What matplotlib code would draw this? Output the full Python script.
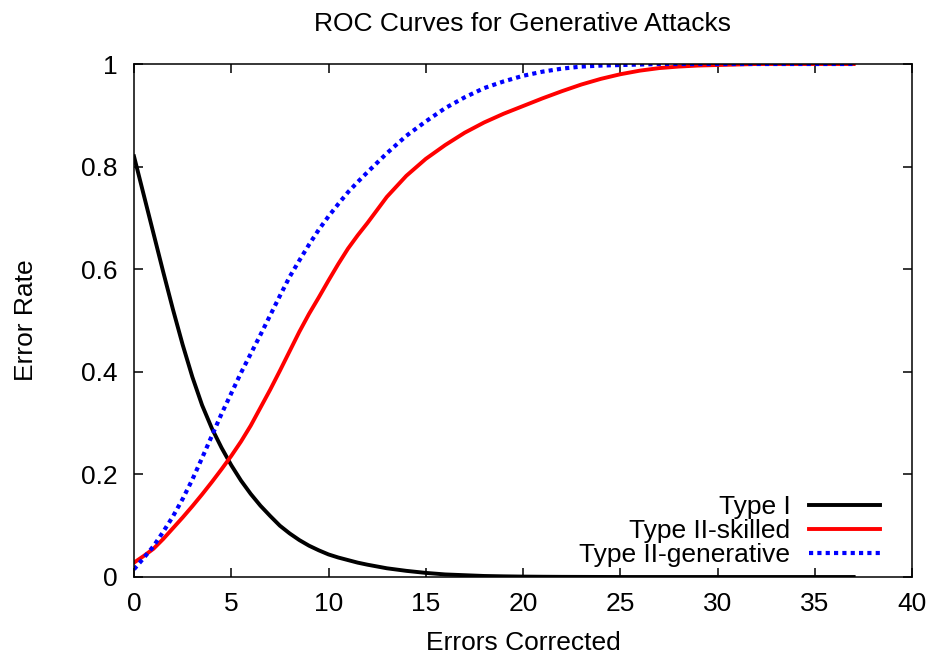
import numpy as np
import matplotlib
matplotlib.use("Agg")
import matplotlib.pyplot as plt

plt.rcParams["font.family"] = ["Liberation Sans", "DejaVu Sans"]

# errors corrected: half steps up to 12, then whole steps to 37
errors = [0, 0.5, 1, 1.5, 2, 2.5, 3, 3.5, 4, 4.5, 5, 5.5, 6, 6.5, 7, 7.5, 8,
          8.5, 9, 9.5, 10, 10.5, 11, 11.5, 12,
          13, 14, 15, 16, 17, 18, 19, 20, 21, 22, 23, 24, 25, 26, 27, 28, 29,
          30, 31, 32, 33, 34, 35, 36, 37]

type1 = [0.82, 0.745, 0.67, 0.595, 0.522, 0.453, 0.39, 0.335, 0.29, 0.252,
         0.218, 0.188, 0.162, 0.139, 0.119, 0.1, 0.085, 0.072, 0.061, 0.052,
         0.044, 0.038, 0.033, 0.028, 0.024,
         0.017, 0.012, 0.008, 0.005, 0.0035, 0.002, 0.0013, 0.0008, 0.0005,
         0.0003, 0.0002, 0.0001, 0.0, 0.0, 0.0, 0.0, 0.0, 0.0, 0.0, 0.0, 0.0,
         0.0, 0.0, 0.0, 0.0]

type2_skilled = [0.028, 0.041, 0.055, 0.074, 0.095, 0.116, 0.138, 0.161, 0.185,
                 0.21, 0.236, 0.264, 0.295, 0.33, 0.365, 0.402, 0.44, 0.478,
                 0.513, 0.545, 0.578, 0.61, 0.64, 0.666, 0.69,
                 0.741, 0.782, 0.815, 0.842, 0.866, 0.886, 0.903, 0.918, 0.933,
                 0.947, 0.96, 0.971, 0.98, 0.987, 0.992, 0.995, 0.997, 0.998,
                 0.999, 1.0, 1.0, 1.0, 1.0, 1.0, 1.0]

type2_generative = [0.015, 0.037, 0.06, 0.088, 0.118, 0.152, 0.19, 0.232, 0.275,
                    0.318, 0.358, 0.398, 0.435, 0.472, 0.51, 0.548, 0.585,
                    0.617, 0.648, 0.677, 0.703, 0.727, 0.75, 0.77, 0.789,
                    0.826, 0.86, 0.888, 0.914, 0.935, 0.953, 0.966, 0.977,
                    0.985, 0.991, 0.995, 0.997, 0.998, 0.999, 1.0, 1.0, 1.0,
                    1.0, 1.0, 1.0, 1.0, 1.0, 1.0, 1.0, 1.0]

xticks = [0, 5, 10, 15, 20, 25, 30, 35, 40]
yticks = [0, 0.2, 0.4, 0.6, 0.8, 1]
ytick_labels = ["0", "0.2", "0.4", "0.6", "0.8", "1"]

FS = 19

fig = plt.figure(figsize=(9.32, 6.54), dpi=100)
ax = fig.add_axes([134 / 932, 1 - 577 / 654, (912 - 134) / 932, (577 - 64) / 654])

ax.plot(errors, type1, color="black", linewidth=2.8, label="Type I")
ax.plot(errors, type2_skilled, color="red", linewidth=2.8, label="Type II-skilled")
ax.plot(errors, type2_generative, color="blue", linewidth=3.0,
        linestyle=(0, (1.0, 1.0)), label="Type II-generative")

ax.set_xlim(0, 40)
ax.set_ylim(0, 1)
ax.set_xticks(xticks)
ax.set_xticklabels([str(t) for t in xticks])
ax.set_yticks(yticks)
ax.set_yticklabels(ytick_labels)
ax.tick_params(direction="in", top=True, right=True, length=6.5, width=1.1,
               labelsize=FS)
ax.tick_params(axis="x", pad=11)
ax.tick_params(axis="y", pad=12)
for s in ax.spines.values():
    s.set_linewidth(1.1)

ax.set_title("ROC Curves for Generative Attacks", fontsize=FS, pad=24)
ax.set_xlabel("Errors Corrected", fontsize=FS)
ax.set_ylabel("Error Rate", fontsize=FS)
ax.xaxis.set_label_coords(0.5, -0.105)
ax.yaxis.set_label_coords(-0.124, 0.5)

ax.legend(loc="lower right", bbox_to_anchor=(0.959, 0.02), frameon=False,
          markerfirst=False, fontsize=FS, handlelength=2.7, labelspacing=0.0,
          borderaxespad=0, borderpad=0, handletextpad=0.7)

fig.savefig("out.png", dpi=100)
